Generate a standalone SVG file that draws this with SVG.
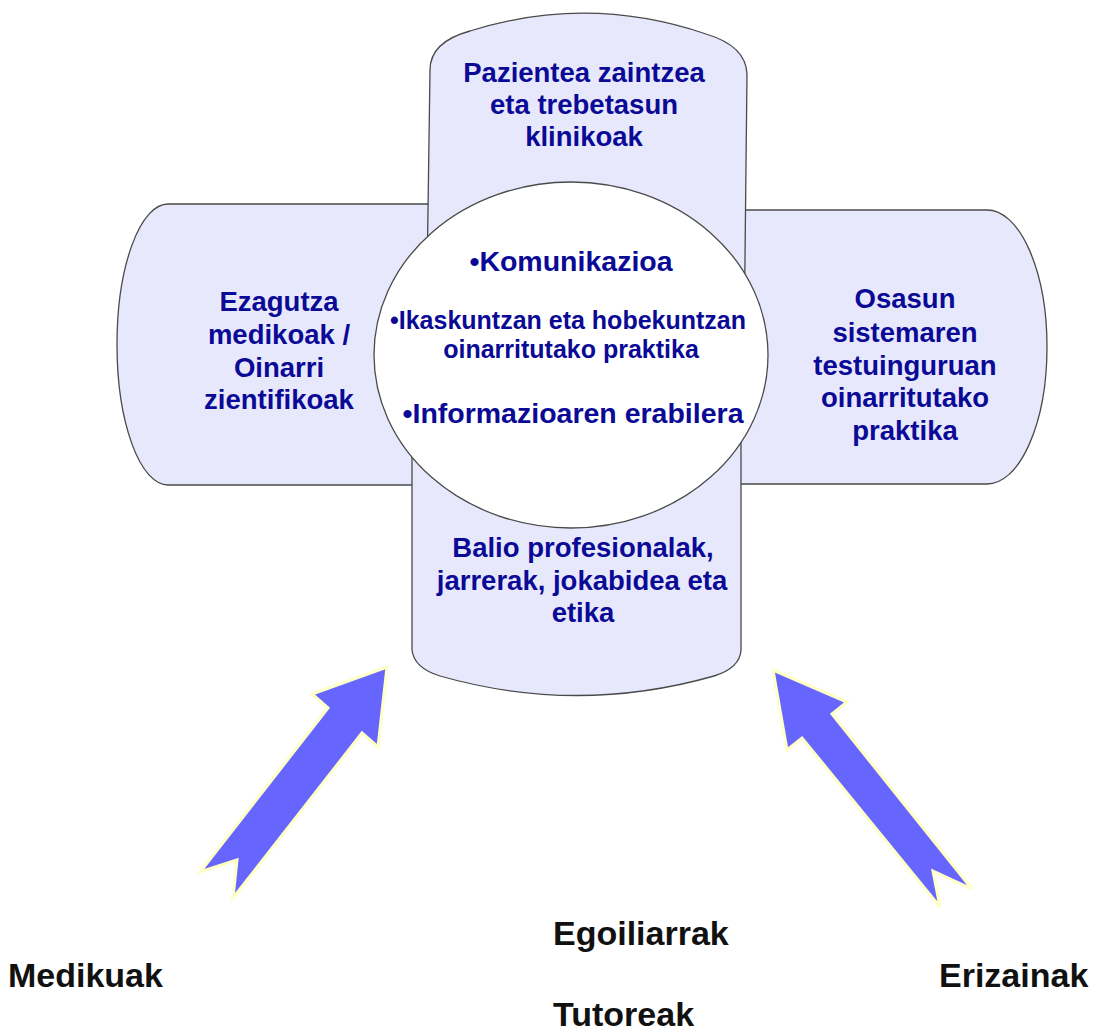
<svg xmlns="http://www.w3.org/2000/svg" width="1097" height="1036" viewBox="0 0 1097 1036">
<style>
.shape{fill:#E8E8FC;stroke:#4a4a4a;stroke-width:1.3}
.circ{fill:#FFFFFF;stroke:#4a4a4a;stroke-width:1.3}
.t{font-family:"Liberation Sans",Arial,sans-serif;font-weight:bold;fill:#0A0A96;text-anchor:middle}
.ta{font-size:27.5px}
.tb{font-size:28.5px}
.ts{font-size:25px}
.lbl{font-family:"Liberation Sans",Arial,sans-serif;font-weight:bold;fill:#111111;font-size:34px}
.arrow{fill:#6666FF;stroke:#FFFFC8;stroke-width:3;stroke-linejoin:miter}
</style>
<rect width="1097" height="1036" fill="#FFFFFF"/>
<g id="left-arm">
<path class="shape" d="M500,204 L168,204 A51,140.5 0 0 0 168,485 L500,485 Z"/>
</g>
<g id="right-arm">
<path class="shape" d="M650,210 L987,210 A60,137 0 0 1 987,484 L650,484 Z"/>
</g>
<g id="top-arm">
<path class="shape" d="M426,350 L430,70 Q430,42 470,31 Q588,-6 706,34 Q746,46 747,74 L744,350 Z"/>
</g>
<g id="bottom-arm">
<path class="shape" d="M412,360 L412,650 Q414,668 440,676 Q577,715 714,676 Q740,668 741,650 L741,360 Z"/>
</g>
<g id="center">
<ellipse class="circ" cx="571" cy="355" rx="197" ry="173"/>
</g>
<g id="top-text">
<text class="t ta"><tspan x="584" y="82">Pazientea zaintzea</tspan><tspan x="584" y="114">eta trebetasun</tspan><tspan x="584" y="146">klinikoak</tspan></text>
</g>
<g id="left-text">
<text class="t ta"><tspan x="279" y="311">Ezagutza</tspan><tspan x="279" y="344">medikoak /</tspan><tspan x="279" y="377">Oinarri</tspan><tspan x="279" y="409">zientifikoak</tspan></text>
</g>
<g id="right-text">
<text class="t ta"><tspan x="905" y="308">Osasun</tspan><tspan x="905" y="342">sistemaren</tspan><tspan x="905" y="375">testuinguruan</tspan><tspan x="905" y="407">oinarritutako</tspan><tspan x="905" y="440">praktika</tspan></text>
</g>
<g id="center-text">
<text class="t tb" x="571" y="271">•Komunikazioa</text>
<text class="t ts"><tspan x="568" y="329">•Ikaskuntzan eta hobekuntzan</tspan><tspan x="571" y="358">oinarritutako praktika</tspan></text>
<text class="t tb" x="573" y="423">•Informazioaren erabilera</text>
</g>
<g id="bottom-text">
<text class="t ta"><tspan x="583" y="557">Balio profesionalak,</tspan><tspan x="582" y="590">jarrerak, jokabidea eta</tspan><tspan x="583" y="622">etika</tspan></text>
</g>
<g id="connectors">
<polygon class="arrow" points="387,667 378,747 362,733 233,898 237,860 200,872 328,708 312,694"/>
<polygon class="arrow" points="773,670 847,702 832,714 972,889 933,871 940,907 802,738 787,750"/>
</g>
<g id="labels">
<text class="lbl" x="8" y="987">Medikuak</text>
<text class="lbl" x="553" y="945">Egoiliarrak</text>
<text class="lbl" x="939" y="987">Erizainak</text>
<text class="lbl" x="553" y="1026">Tutoreak</text>
</g>
</svg>
